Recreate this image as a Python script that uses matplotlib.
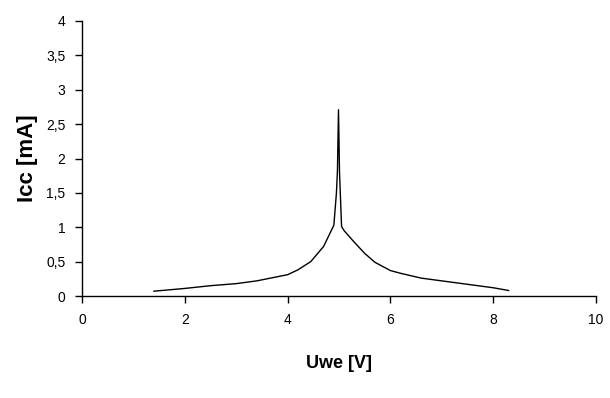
import matplotlib
matplotlib.use("Agg")
import matplotlib.pyplot as plt
from matplotlib.ticker import FuncFormatter

# Uwe [V] vs Icc [mA]
uwe = [1.4, 2.0, 2.5, 3.0, 3.4, 4.0, 4.2, 4.45, 4.7, 4.9, 4.95, 4.97, 4.99,
       5.01, 5.05, 5.1, 5.3, 5.5, 5.7, 6.0, 6.2, 6.6, 7.0, 7.5, 8.0, 8.3]
icc = [0.07, 0.11, 0.15, 0.18, 0.22, 0.31, 0.38, 0.50, 0.72, 1.03, 1.5, 1.83, 2.71,
       1.8, 1.01, 0.95, 0.78, 0.62, 0.49, 0.37, 0.33, 0.26, 0.22, 0.17, 0.12, 0.08]

x_ticks = [0, 2, 4, 6, 8, 10]
y_ticks = [0, 0.5, 1, 1.5, 2, 2.5, 3, 3.5, 4]

plt.rcParams["font.family"] = ["Liberation Sans", "DejaVu Sans"]

fig = plt.figure(figsize=(6.1, 3.98), dpi=100)
ax = fig.add_axes([82 / 610, 1 - 296 / 398, 514 / 610, 275 / 398])

ax.plot(uwe, icc, color="black", lw=1.0)

ax.set_xlim(0, 10)
ax.set_ylim(0, 4)
ax.set_xticks(x_ticks)
ax.set_yticks(y_ticks)


def comma(v, pos):
    s = f"{v:g}"
    return s.replace(".", ",")


ax.xaxis.set_major_formatter(FuncFormatter(comma))
ax.yaxis.set_major_formatter(FuncFormatter(comma))

for side in ("top", "right"):
    ax.spines[side].set_visible(False)
for side in ("left", "bottom"):
    ax.spines[side].set_linewidth(1.0)

ax.tick_params(direction="out", length=5, width=1, labelsize=10, pad=7, colors="black")

ax.set_xlabel("Uwe [V]", fontsize=13, fontweight="bold")
ax.set_ylabel("Icc [mA]", fontsize=16, fontweight="bold")
ax.xaxis.set_label_coords(0.5, -0.213)
ax.yaxis.set_label_coords(-0.0856, 0.5)

fig.savefig("out.png", dpi=100)
